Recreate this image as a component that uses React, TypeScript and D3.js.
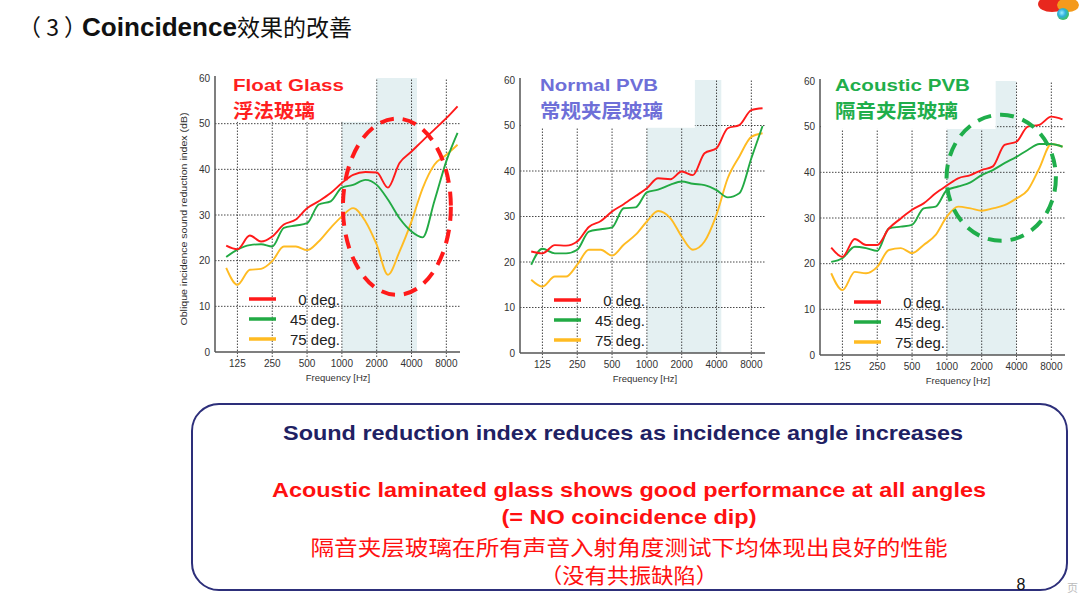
import * as d3 from "d3";

// 1/3-octave centre frequencies used by all three panels
const freqs = [100, 125, 160, 200, 250, 315, 400, 500, 630, 800, 1000, 1250, 1600, 2000, 2500, 3150, 4000, 5000, 6300, 8000, 10000];
const freqTicks = [125, 250, 500, 1000, 2000, 4000, 8000];
const dbTicks = [0, 10, 20, 30, 40, 50, 60];
const angleLabels = ["0 deg.", "45 deg.", "75 deg."];
const angleColors = ["#ff1a1a", "#22aa44", "#ffbb22"];

// Float glass
const float0 = [23.3, 22.5, 25.5, 24.2, 25.3, 27.9, 29.0, 31.5, 33.0, 34.8, 37.0, 38.8, 39.4, 39.3, 36.0, 41.4, 43.9, 46.3, 48.7, 51.2, 53.8];
const float45 = [20.8, 22.4, 23.4, 23.6, 23.1, 27.2, 27.7, 28.2, 32.3, 33.0, 36.0, 36.6, 37.7, 36.6, 33.4, 29.3, 26.4, 25.1, 33.0, 41.8, 48.0];
const float75 = [18.4, 14.7, 18.0, 18.2, 19.9, 23.1, 23.1, 22.3, 24.2, 27.2, 29.7, 31.5, 28.6, 23.5, 16.9, 22.0, 28.6, 35.9, 41.0, 43.2, 45.4];

// Normal PVB laminated
const normal0 = [22.3, 21.9, 23.7, 23.6, 24.5, 27.7, 29.0, 31.1, 32.7, 34.5, 36.2, 38.4, 38.2, 39.9, 39.1, 43.9, 45.0, 49.4, 50.1, 53.4, 53.8];
const normal45 = [19.4, 22.9, 21.9, 21.9, 22.7, 26.7, 27.2, 27.6, 31.8, 32.0, 35.3, 35.9, 37.0, 37.7, 37.2, 36.9, 35.8, 34.2, 35.1, 42.8, 49.9];
const normal75 = [16.1, 14.6, 16.8, 16.8, 19.4, 22.7, 22.7, 21.4, 23.8, 26.0, 28.9, 31.2, 29.6, 25.6, 22.7, 24.5, 30.4, 38.4, 43.2, 47.5, 48.3];

// Acoustic PVB laminated
const acoustic0 = [23.5, 21.5, 25.4, 24.1, 24.1, 27.7, 29.9, 31.8, 33.2, 35.4, 37.1, 38.7, 39.4, 40.5, 41.3, 46.0, 46.7, 50.0, 50.4, 52.2, 51.6];
const acoustic45 = [20.4, 21.2, 23.7, 23.4, 22.8, 27.7, 28.1, 28.5, 32.1, 32.5, 36.1, 36.9, 37.8, 39.4, 40.5, 42.0, 43.4, 44.9, 46.2, 46.2, 45.6];
const acoustic75 = [17.9, 14.2, 18.2, 17.9, 19.3, 23.0, 23.4, 22.3, 24.1, 26.3, 30.3, 32.5, 32.1, 31.6, 32.1, 32.8, 34.3, 36.1, 40.9, 46.2, 45.6];

const LATIN = "'Liberation Sans', Arial, sans-serif";
const CJK = "'Noto Sans CJK SC', 'Liberation Sans', sans-serif";

type Ring = { freq: number; db: number; oct: number; span: number; color: string };

type PanelSpec = {
  axisX: number;
  yBottom: number;
  yTop: number;
  title: string;
  titleCn: string;
  titleColor: string;
  titleX: number;
  titleW: number;
  titleCnW: number;
  series: number[][];
  shadeTo: number;
  coverTo: number;
  coverDb: number;
  ring?: Ring;
  yLabel?: boolean;
  freqLabelX: number;
};

const panels: PanelSpec[] = [
  {
    axisX: 215, yBottom: 352, yTop: 78,
    title: "Float Glass", titleCn: "浮法玻璃", titleColor: "#ff1f1f",
    titleX: 233, titleW: 111, titleCnW: 82,
    series: [float0, float45, float75],
    shadeTo: 4460, coverTo: 1980, coverDb: 50.4,
    ring: { freq: 2990, db: 31.8, oct: 1.55, span: 19.3, color: "#ff1a1a" },
    yLabel: true, freqLabelX: 338,
  },
  {
    axisX: 520, yBottom: 353, yTop: 80,
    title: "Normal PVB", titleCn: "常规夹层玻璃", titleColor: "#6e6fd8",
    titleX: 540, titleW: 118, titleCnW: 123,
    series: [normal0, normal45, normal75],
    shadeTo: 4400, coverTo: 2600, coverDb: 49.5,
    freqLabelX: 645,
  },
  {
    axisX: 820, yBottom: 355, yTop: 81,
    title: "Acoustic PVB", titleCn: "隔音夹层玻璃", titleColor: "#1fae4b",
    titleX: 835, titleW: 135, titleCnW: 123,
    series: [acoustic0, acoustic45, acoustic75],
    shadeTo: 3980, coverTo: 2640, coverDb: 49.5,
    ring: { freq: 2950, db: 38.8, oct: 1.57, span: 13.8, color: "#1fae4b" },
    freqLabelX: 958,
  },
];

function Panel({ p }: { p: PanelSpec }) {
  const width = 245;
  const x = d3.scaleLog().base(2).domain([80, 10500]).range([p.axisX, p.axisX + width]);
  const y = d3.scaleLinear().domain([0, 60]).range([p.yBottom, p.yTop]);
  const line = d3
    .line<number>()
    .x((_, i) => x(freqs[i]))
    .y((d) => y(d))
    .curve(d3.curveMonotoneX);
  const right = p.axisX + width;

  return (
    <g>
      {/* shaded coincidence band */}
      <rect x={x(1000)} y={y(60)} width={x(p.shadeTo) - x(1000)} height={y(0) - y(60)} fill="#e4f0f2" />
      {/* grid */}
      {dbTicks.slice(1, 6).map((d) => (
        <line key={"h" + d} x1={p.axisX} x2={right} y1={y(d)} y2={y(d)} stroke="#333" strokeWidth={0.9} strokeDasharray="1.5,1.5" />
      ))}
      {freqTicks.map((f) => (
        <line key={"v" + f} x1={x(f)} x2={x(f)} y1={y(0) + 5} y2={y(60)} stroke="#333" strokeWidth={0.9} strokeDasharray="1.5,1.5" />
      ))}
      {/* white title box pasted over the plot */}
      <rect x={p.axisX + 1} y={y(60) - 6} width={x(p.coverTo) - p.axisX - 1} height={y(p.coverDb) - y(60) + 6} fill="#fff" />
      {/* axes */}
      <line x1={p.axisX} x2={p.axisX} y1={y(0)} y2={y(60) - 2} stroke="#555" strokeWidth={1.5} />
      <line x1={p.axisX} x2={right} y1={y(0)} y2={y(0)} stroke="#555" strokeWidth={1.5} />
      {dbTicks.map((d) => (
        <text key={"yt" + d} x={p.axisX - 5} y={y(d)} dy="0.35em" textAnchor="end" fontSize={10} fontFamily={LATIN} fill="#333">
          {d}
        </text>
      ))}
      {freqTicks.map((f) => (
        <text key={"xt" + f} x={x(f)} y={y(0) + 15} textAnchor="middle" fontSize={10} fontFamily={LATIN} fill="#333">
          {f}
        </text>
      ))}
      <text x={p.freqLabelX} y={y(0) + 29} textAnchor="middle" fontSize={9.5} fontFamily={LATIN} fill="#333">
        Frequency [Hz]
      </text>
      {p.yLabel && (
        <text
          transform={`translate(${p.axisX - 28},${(y(0) + y(60)) / 2 + 4}) rotate(-90)`}
          textAnchor="middle"
          fontSize={9}
          fontFamily={LATIN}
          fill="#333"
          textLength={213}
          lengthAdjust="spacingAndGlyphs"
        >
          Oblique incidence sound reduction index (dB)
        </text>
      )}
      {/* curves */}
      {p.series
        .map((s, i) => (
          <path key={"s" + i} d={line(s)!} fill="none" stroke={angleColors[i]} strokeWidth={1.9} />
        ))
        .reverse()}
      {/* dashed ring */}
      {p.ring && (
        <ellipse
          cx={x(p.ring.freq)}
          cy={y(p.ring.db)}
          rx={x(p.ring.freq * Math.pow(2, p.ring.oct)) - x(p.ring.freq)}
          ry={y(p.ring.db - p.ring.span) - y(p.ring.db)}
          fill="none"
          stroke={p.ring.color}
          strokeWidth={4}
          strokeDasharray="14,9"
        />
      )}
      {/* legend */}
      {angleLabels.map((lab, i) => {
        const ly = p.yBottom - 53 + i * 20;
        return (
          <g key={lab}>
            <line x1={p.axisX + 34} x2={p.axisX + 61} y1={ly} y2={ly} stroke={angleColors[i]} strokeWidth={3.5} />
            <text x={p.axisX + 125} y={ly + 5.5} textAnchor="end" fontSize={15} fontFamily={LATIN} fill="#222">
              {lab}
            </text>
          </g>
        );
      })}
      {/* titles */}
      <text x={p.titleX} y={91} fontSize={17} fontWeight="bold" fontFamily={LATIN} fill={p.titleColor} textLength={p.titleW} lengthAdjust="spacingAndGlyphs">
        {p.title}
      </text>
      <text x={p.titleX} y={118} fontSize={19} fontWeight="bold" fontFamily={CJK} fill={p.titleColor} textLength={p.titleCnW} lengthAdjust="spacingAndGlyphs">
        {p.titleCn}
      </text>
    </g>
  );
}

export default function App() {
  return (
    <svg width={1080} height={606} style={{ position: "absolute", left: 0, top: 0, background: "#fff" }}>
      <defs>
        <radialGradient id="logoBall" cx="40%" cy="40%" r="60%">
          <stop offset="0%" stopColor="#a0f0ff" />
          <stop offset="50%" stopColor="#30b0e0" />
          <stop offset="100%" stopColor="#40c060" />
        </radialGradient>
      </defs>
      {/* heading */}
      <text x={18} y={36} fill="#111">
        <tspan fontFamily={CJK} fontSize={23}>（ 3 ）</tspan>
        <tspan x={82} fontFamily={LATIN} fontSize={26} fontWeight="bold" textLength={155} lengthAdjust="spacingAndGlyphs">Coincidence</tspan>
        <tspan fontFamily={CJK} fontSize={23}>效果的改善</tspan>
      </text>
      {/* corner logo */}
      <ellipse cx={1052} cy={4} rx={14} ry={8} fill="#e8281e" />
      <ellipse cx={1068} cy={5} rx={11} ry={7} fill="#f49a1c" />
      <circle cx={1063} cy={14} r={6} fill="url(#logoBall)" />

      {panels.map((p, i) => (
        <Panel key={i} p={p} />
      ))}

      {/* conclusion box */}
      <rect x={192} y={404} width={875} height={186} rx={27} ry={27} fill="none" stroke="#2d2f7a" strokeWidth={2} />
      <text x={623} y={440} textAnchor="middle" fontSize={21} fontWeight="bold" fontFamily={LATIN} fill="#1f2163" textLength={680} lengthAdjust="spacingAndGlyphs">
        Sound reduction index reduces as incidence angle increases
      </text>
      <text x={629} y={497} textAnchor="middle" fontSize={21} fontWeight="bold" fontFamily={LATIN} fill="#ff1010" textLength={714} lengthAdjust="spacingAndGlyphs">
        Acoustic laminated glass shows good performance at all angles
      </text>
      <text x={629} y={524} textAnchor="middle" fontSize={21} fontWeight="bold" fontFamily={LATIN} fill="#ff1010" textLength={255} lengthAdjust="spacingAndGlyphs">
        (= NO coincidence dip)
      </text>
      <text x={629} y={555} textAnchor="middle" fontSize={21} fontFamily={CJK} fill="#ff1010" textLength={637} lengthAdjust="spacingAndGlyphs">
        隔音夹层玻璃在所有声音入射角度测试下均体现出良好的性能
      </text>
      <text x={629} y={583} textAnchor="middle" fontSize={21} fontFamily={CJK} fill="#ff1010" textLength={178} lengthAdjust="spacingAndGlyphs">
        （没有共振缺陷）
      </text>
      <text x={1021} y={590} textAnchor="middle" fontSize={16} fontFamily={LATIN} fill="#111">
        8
      </text>
      <text x={1067} y={592} fontSize={11} fontFamily={CJK} fill="#bbb">
        页
      </text>
    </svg>
  );
}
